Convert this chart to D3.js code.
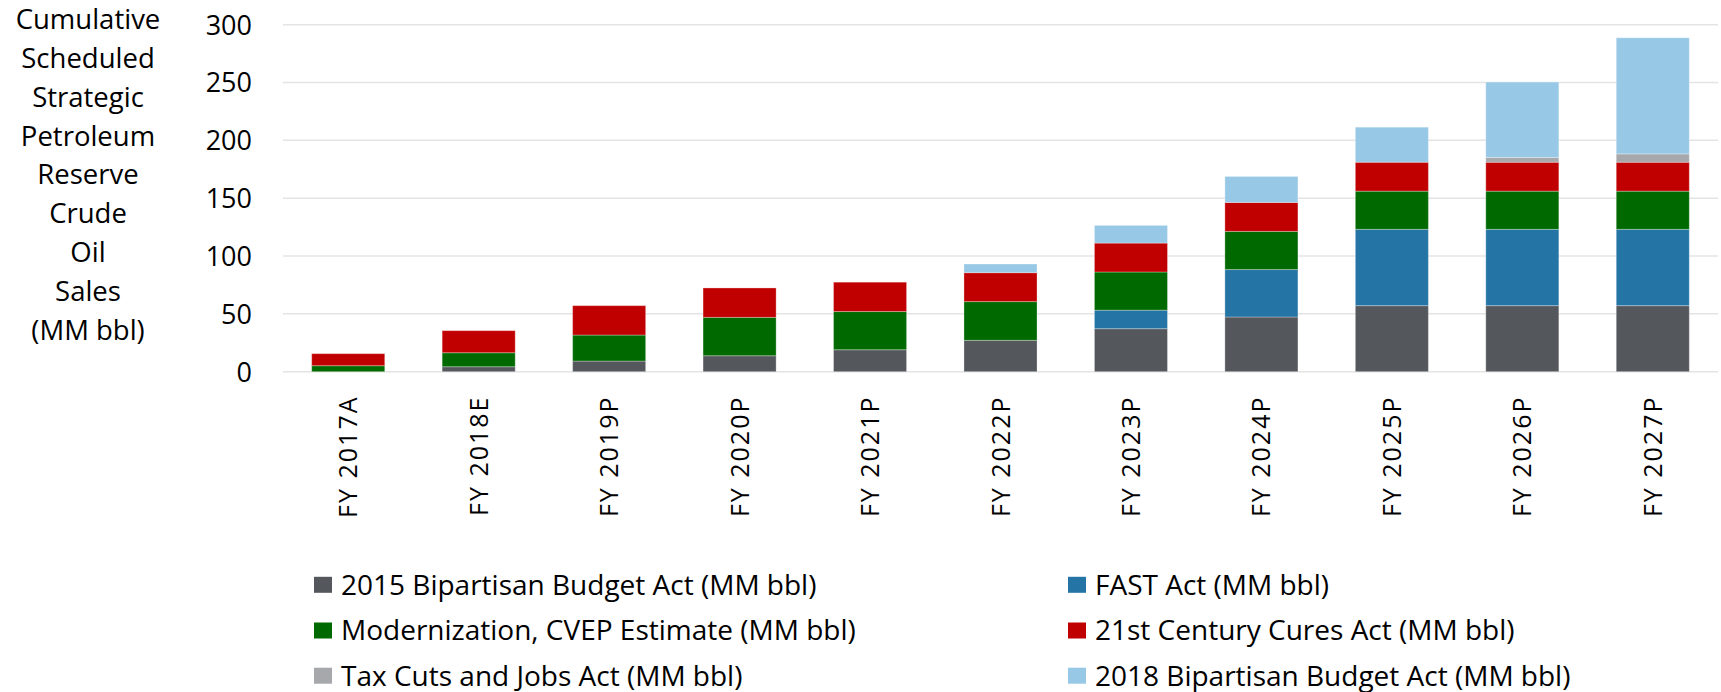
<!DOCTYPE html>
<html>
<head>
<meta charset="utf-8">
<script src="https://cdn.jsdelivr.net/npm/d3@7"></script>
<style>
  html, body { margin: 0; padding: 0; background: #fff; }
  svg { display: block; }
</style>
</head>
<body>
<svg id="chart" width="1721" height="692"></svg>
<script>
const categories = ["FY 2017A","FY 2018E","FY 2019P","FY 2020P","FY 2021P","FY 2022P","FY 2023P","FY 2024P","FY 2025P","FY 2026P","FY 2027P"];
const bba2015      = [0, 4.3, 9.2, 13.8, 19.0, 27.1, 37.2, 47.3, 57.1, 57.1, 57.1];
const fastAct      = [0, 0, 0, 0, 0, 0, 16, 41, 66, 66, 66];
const modernization= [5.2, 12.1, 22.5, 33.2, 33, 33.5, 33, 33, 33, 33, 33];
const curesAct     = [10.4, 19.1, 25.4, 25.4, 25.4, 25, 25, 25, 25, 25, 25];
const taxCuts      = [0, 0, 0, 0, 0, 0, 0, 0, 0, 4.1, 7.2];
const bba2018      = [0, 0, 0, 0, 0, 7.5, 15.3, 22.5, 30.3, 65.2, 100.4];
const seriesNames  = ["2015 Bipartisan Budget Act (MM bbl)","FAST Act (MM bbl)","Modernization, CVEP Estimate (MM bbl)","21st Century Cures Act (MM bbl)","Tax Cuts and Jobs Act (MM bbl)","2018 Bipartisan Budget Act (MM bbl)"];
const seriesColors = ["#54575C","#2474A6","#006A00","#C00000","#A6A8AB","#97C8E6"];
const yTicks = [0, 50, 100, 150, 200, 250, 300];
const yTitleLines = ["Cumulative","Scheduled","Strategic","Petroleum","Reserve","Crude","Oil","Sales","(MM bbl)"];

const seriesValues = [bba2015, fastAct, modernization, curesAct, taxCuts, bba2018];
const keys = seriesNames;
const rows = categories.map((c, i) => {
  const r = { cat: c };
  keys.forEach((k, j) => r[k] = seriesValues[j][i]);
  return r;
});

const svg = d3.select("#chart");
const FONT = "'Open Sans', 'Noto Sans', sans-serif";

const x = d3.scaleBand().domain(categories).range([283, 1718]).paddingInner(0.44).paddingOuter(0.22);
const y = d3.scaleLinear().domain([0, 300]).range([371.7, 24.7]);

// gridlines
svg.append("g").selectAll("line").data(yTicks).join("line")
  .attr("x1", 283).attr("x2", 1718)
  .attr("y1", d => y(d)).attr("y2", d => y(d))
  .attr("stroke", "#E4E4E4").attr("stroke-width", 1.5);

// y axis labels
const yAxis = d3.axisLeft(y).tickValues(yTicks).tickSize(0).tickPadding(0);
const yg = svg.append("g").attr("transform", "translate(252,0)").call(yAxis);
yg.select(".domain").remove();
yg.selectAll("text").attr("font-family", FONT).attr("font-size", 27).attr("fill", "#000").attr("dy", "0.35em");

// y title
svg.append("g").selectAll("text").data(yTitleLines).join("text")
  .attr("x", 88).attr("y", (d, i) => 19.5 + i * 38.8)
  .attr("dy", "0.35em")
  .attr("text-anchor", "middle")
  .attr("font-family", FONT).attr("font-size", 27.5).attr("fill", "#000")
  .text(d => d);

// bars
const stack = d3.stack().keys(keys);
const stacked = stack(rows);
svg.append("g").selectAll("g").data(stacked).join("g")
  .attr("fill", (d, i) => seriesColors[i])
  .selectAll("rect").data(d => d.filter(p => p[1] - p[0] > 0)).join("rect")
  .attr("x", d => x(d.data.cat))
  .attr("width", x.bandwidth())
  .attr("y", d => y(d[1]))
  .attr("height", d => y(d[0]) - y(d[1]))
  .attr("stroke", "rgba(255,255,255,0.3)").attr("stroke-width", 1);

// x axis labels
const xAxis = d3.axisBottom(x).tickSize(0).tickPadding(0);
const xg = svg.append("g").attr("transform", "translate(0,372)").call(xAxis);
xg.select(".domain").remove();
xg.selectAll("text")
  .attr("font-family", FONT).attr("font-size", 25)
  .attr("letter-spacing", "2px")
  .attr("fill", "#000")
  .attr("text-anchor", "end")
  .attr("transform", "rotate(-90)")
  .attr("x", -23.5).attr("y", 0).attr("dy", "0.36em");

// legend
const legendCols = [314, 1068];
const legendRows = [584.8, 630.5, 675.7];
const lg = svg.append("g").selectAll("g").data(seriesNames).join("g")
  .attr("transform", (d, i) => `translate(${legendCols[i % 2]},${legendRows[Math.floor(i / 2)]})`);
lg.append("rect").attr("x", 0).attr("y", -8).attr("width", 18).attr("height", 16)
  .attr("fill", (d, i) => seriesColors[i]);
lg.append("text").attr("x", 27).attr("y", 0).attr("dy", "0.35em")
  .attr("font-family", FONT).attr("font-size", 28).attr("fill", "#000")
  .text(d => d);
</script>
</body>
</html>
